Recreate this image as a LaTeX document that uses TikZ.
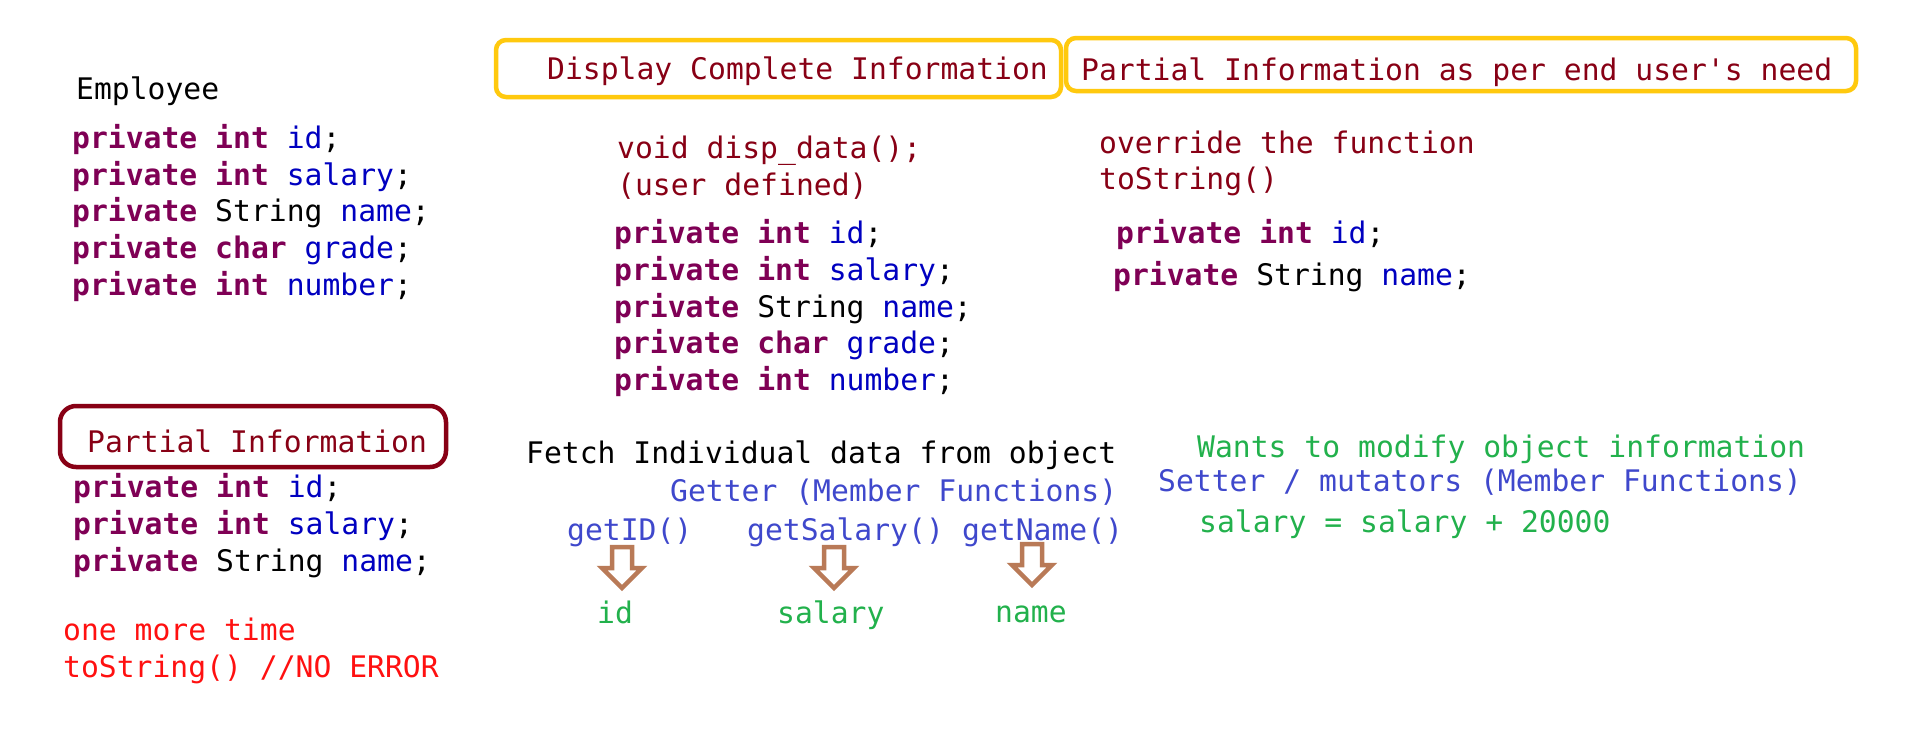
\documentclass[tikz,border=0pt]{standalone}
\usepackage{fontspec}
\setmainfont{DejaVu Sans Mono}
\definecolor{kwc}{HTML}{7F0055}
\definecolor{idc}{HTML}{0000C0}
\definecolor{dred}{HTML}{880015}
\definecolor{ylw}{HTML}{FFC90E}
\definecolor{brn}{HTML}{B97A57}
\definecolor{grn}{HTML}{22B14C}
\definecolor{ind}{HTML}{3F48CC}
\definecolor{brd}{HTML}{FF1010}
\newcommand{\kwd}[1]{\textbf{\textcolor{kwc}{#1}}}
\newcommand{\ident}[1]{\textcolor{idc}{#1}}
\tikzset{
  txt/.style={inner sep=0pt, anchor=base west, font=\fontsize{29.7}{37}\selectfont},
  ybox/.style={draw=ylw, line width=4.5pt, rounded corners=10pt},
  rbox/.style={draw=dred, line width=4.5pt, rounded corners=16pt},
  blockarrow/.pic={\draw[draw=brn, line width=4.5pt, line join=miter]
     (-10,0) -- (10,0) -- (10,21) -- (20,21) -- (0,41) -- (-20,21) -- (-10,21) -- cycle;}
}
\begin{document}
\begin{tikzpicture}[x=1pt,y=-1pt]
\useasboundingbox[fill=white] (0,0) rectangle (1914,734);

% left column
\node[txt] (emp) at (76,99) {Employee};
\node[txt] (l1) at (72,148) {\kwd{private} \kwd{int} \ident{id};};
\node[txt] (l2) at (72,185) {\kwd{private} \kwd{int} \ident{salary};};
\node[txt] (l3) at (72,221) {\kwd{private} String \ident{name};};
\node[txt] (l4) at (72,258) {\kwd{private} \kwd{char} \ident{grade};};
\node[txt] (l5) at (72,295) {\kwd{private} \kwd{int} \ident{number};};

% top boxes
\draw[ybox] (496,40) rectangle (1061,97);
\node[txt, text=dred] (disp) at (547,79) {Display Complete Information};
\draw[ybox] (1066,38) rectangle (1856,91);
\node[txt, text=dred] (part) at (1081,80) {Partial Information as per end user\textquotesingle s need};

% middle column
\node[txt, text=dred] (void) at (617,158) {void disp\_data();};
\node[txt, text=dred] (udef) at (617,195) {(user defined)};
\node[txt] (m1) at (614,243) {\kwd{private} \kwd{int} \ident{id};};
\node[txt] (m2) at (614,280) {\kwd{private} \kwd{int} \ident{salary};};
\node[txt] (m3) at (614,317) {\kwd{private} String \ident{name};};
\node[txt] (m4) at (614,353) {\kwd{private} \kwd{char} \ident{grade};};
\node[txt] (m5) at (614,390) {\kwd{private} \kwd{int} \ident{number};};

% right column
\node[txt, text=dred] (ovr) at (1099,153) {override the function};
\node[txt, text=dred] (tos) at (1099,189) {toString()};
\node[txt] (r1) at (1116,243) {\kwd{private} \kwd{int} \ident{id};};
\node[txt] (r2) at (1113,285) {\kwd{private} String \ident{name};};

% partial information (left bottom)
\draw[rbox] (60,406) rectangle (446,467);
\node[txt, text=dred] (pinfo) at (87,452) {Partial Information};
\node[txt] (p1) at (73,497) {\kwd{private} \kwd{int} \ident{id};};
\node[txt] (p2) at (73,534) {\kwd{private} \kwd{int} \ident{salary};};
\node[txt] (p3) at (73,571) {\kwd{private} String \ident{name};};
\node[txt, text=brd] (om1) at (63,640) {one more time};
\node[txt, text=brd] (om2) at (63,677) {toString() //NO ERROR};

% getters
\node[txt] (fetch) at (526,463) {Fetch Individual data from object};
\node[txt, text=ind] (getter) at (670,501) {Getter (Member Functions)};
\node[txt, text=ind] (gid) at (567,540) {getID()};
\node[txt, text=ind] (gsal) at (747,540) {getSalary()};
\node[txt, text=ind] (gname) at (962,540) {getName()};
\pic at (622,547) {blockarrow};
\pic at (834,547) {blockarrow};
\pic at (1032,544) {blockarrow};
\node[txt, text=grn] (vid) at (597,623) {id};
\node[txt, text=grn] (vsal) at (777,623) {salary};
\node[txt, text=grn] (vname) at (995,622) {name};

% setters
\node[txt, text=grn] (wants) at (1197,457) {Wants to modify object information};
\node[txt, text=ind] (setter) at (1158,491) {Setter / mutators (Member Functions)};
\node[txt, text=grn] (sal) at (1199,532) {salary = salary + 20000};
\end{tikzpicture}
\end{document}
